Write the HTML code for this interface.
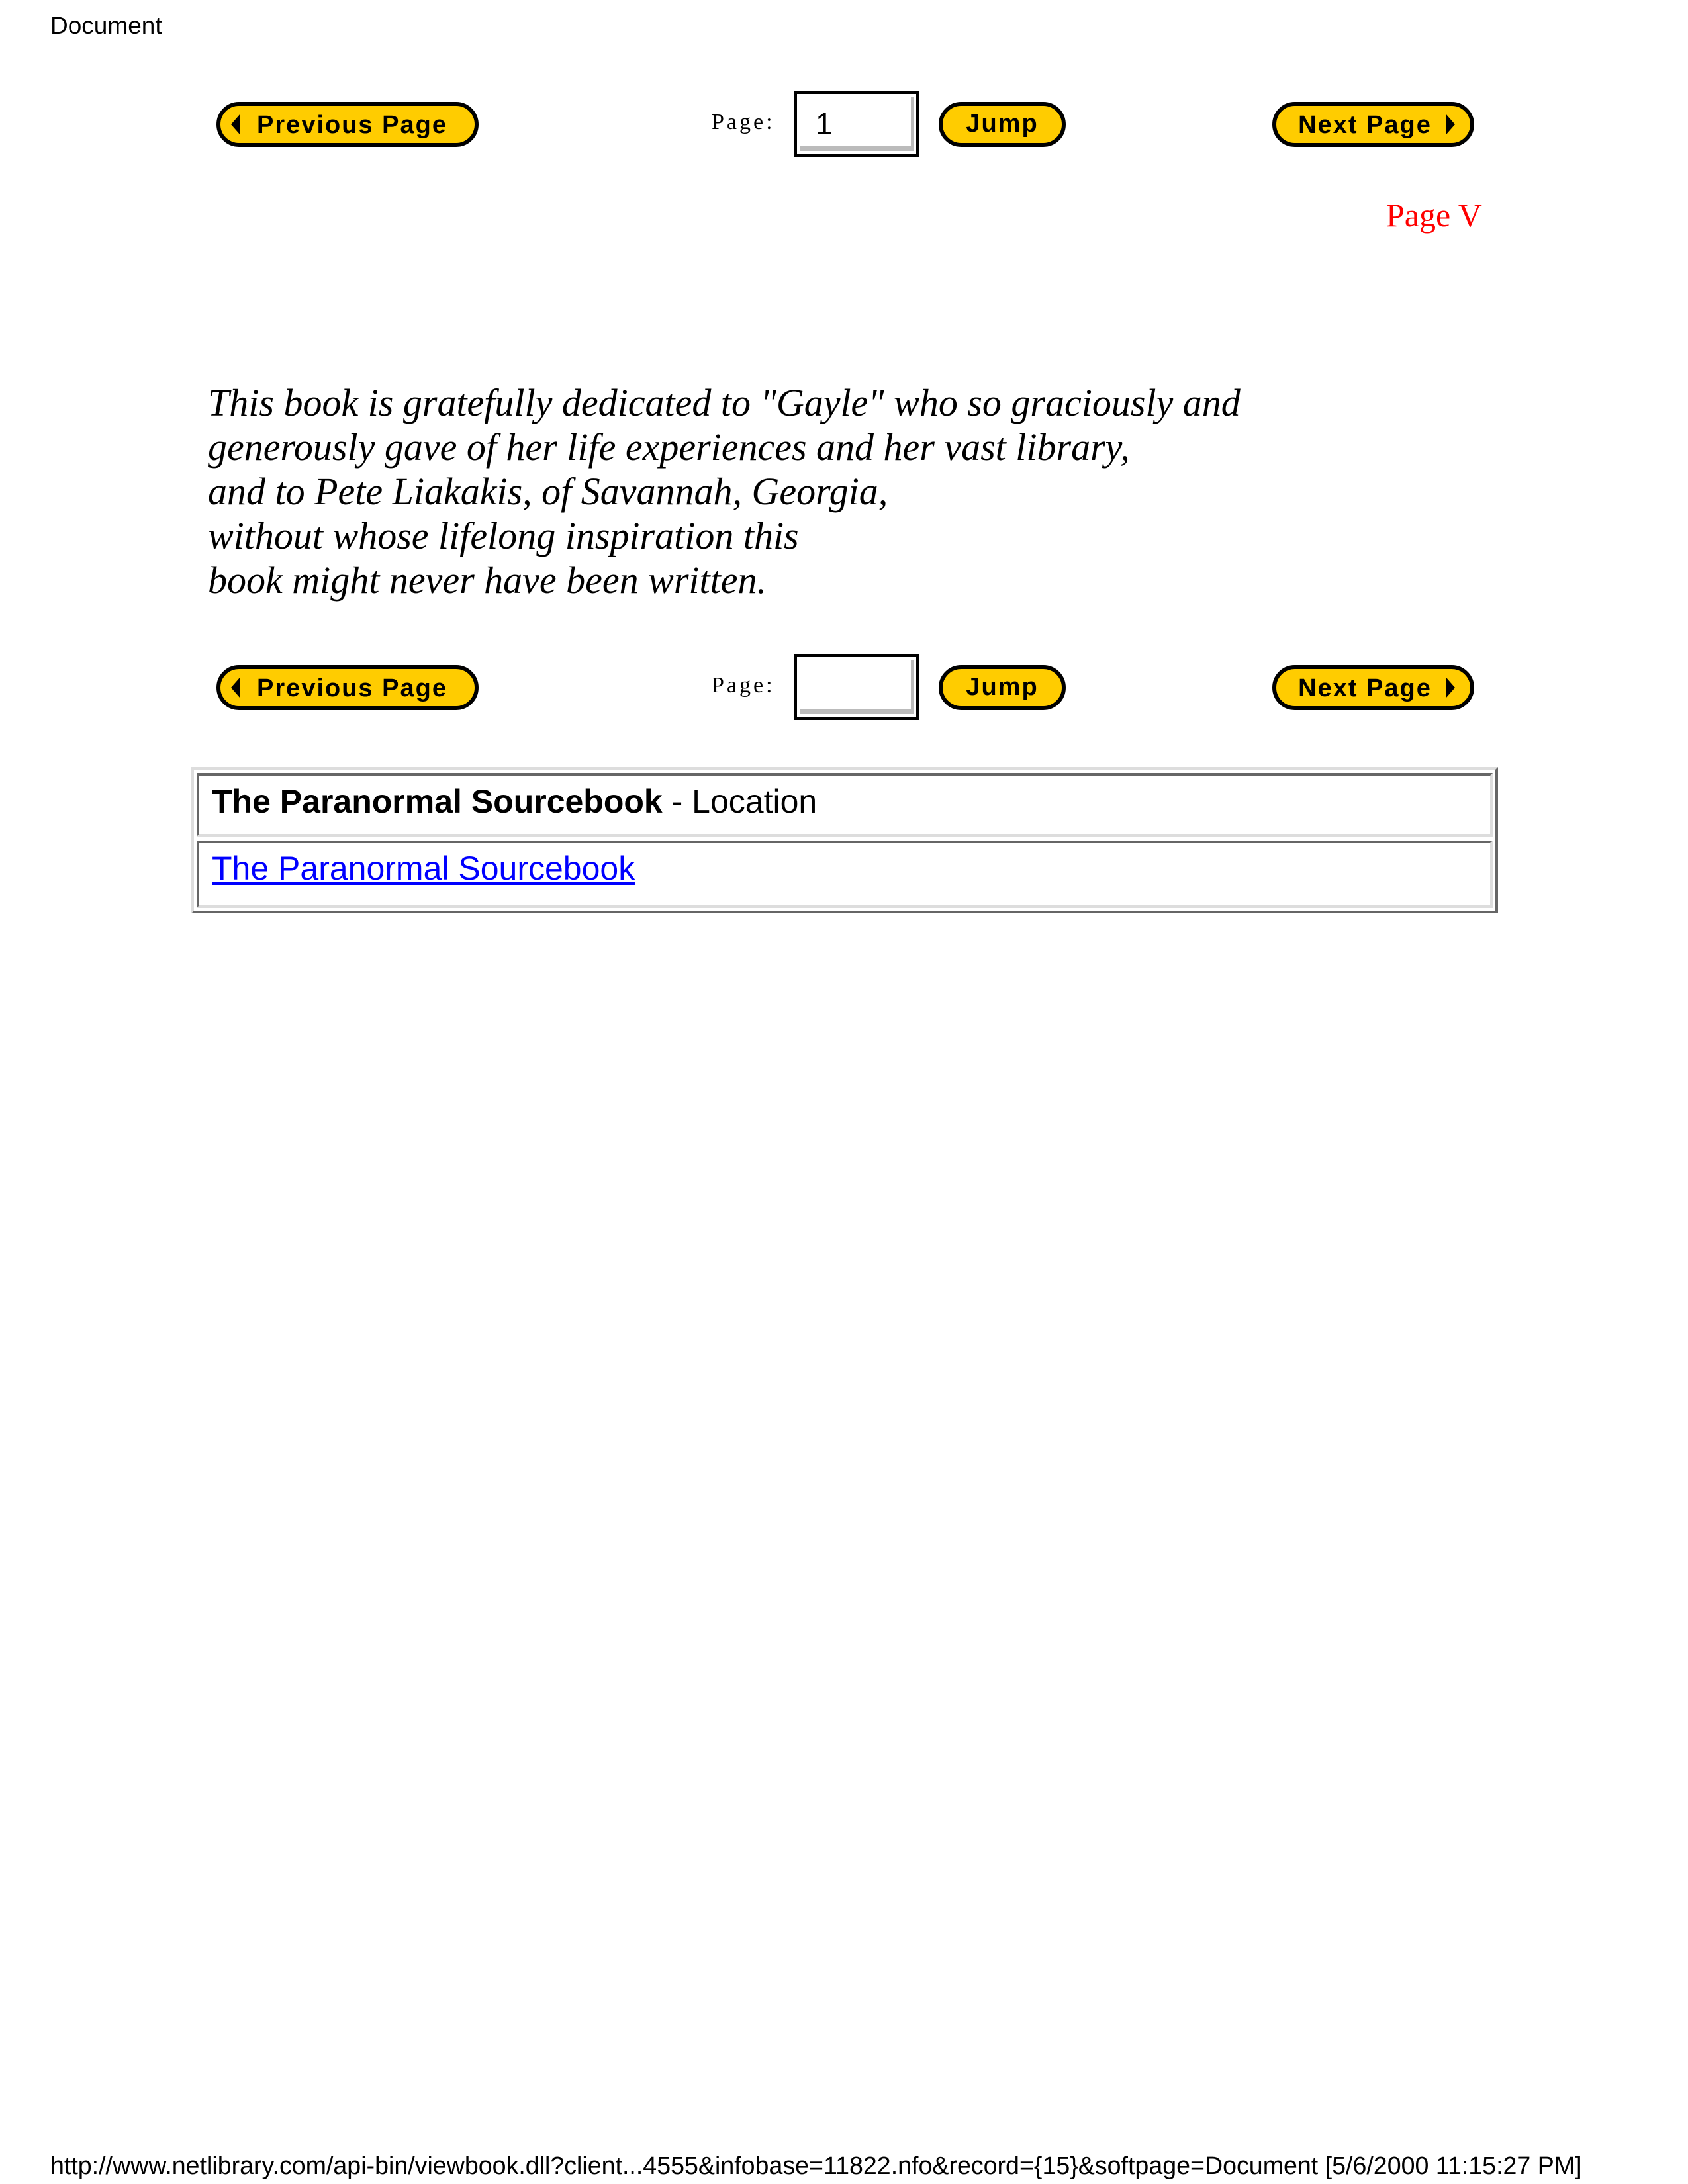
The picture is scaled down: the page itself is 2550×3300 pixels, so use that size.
<!DOCTYPE html>
<html><head><meta charset="utf-8"><style>
html,body{margin:0;padding:0;background:#fff;}
body{width:2550px;height:3300px;position:relative;overflow:hidden;}
.a{position:absolute;white-space:nowrap;}
.sans{font-family:"Liberation Sans",sans-serif;}
.serif{font-family:"Liberation Serif",serif;}
.it{font-style:italic;font-size:58px;left:314px;line-height:1;}
.pg{font-size:34px;letter-spacing:4px;}
.box{position:absolute;width:180px;height:90px;border:5px solid #000;background:#fff;box-sizing:border-box;}
.box i{position:absolute;left:4px;right:4px;top:4px;bottom:4px;border-right:4px solid #bbb;border-bottom:8px solid #bbb;}
</style></head><body>
<div class="a sans" style="left:76px;top:18px;font-size:37px;">Document</div>

<svg class="a" style="left:327px;top:154px" width="396" height="68" viewBox="0 0 396 68"><rect x="3" y="3" width="390" height="62" rx="31" fill="#ffcc00" stroke="#000" stroke-width="6"/><polygon points="22,34 36,18 36,50" fill="#000"/><text x="205" y="47" text-anchor="middle" font-family="Liberation Sans" font-weight="bold" font-size="38" letter-spacing="2" fill="#000">Previous Page</text></svg>
<div class="a serif pg" style="left:1075px;top:166px;">Page:</div>
<div class="box" style="left:1199px;top:137px;width:190px;height:100px;"><i></i><span class="a sans" style="left:28px;top:18px;font-size:46px;">1</span></div>
<svg class="a" style="left:1418px;top:154px" width="192" height="68" viewBox="0 0 192 68"><rect x="3" y="3" width="186" height="62" rx="31" fill="#ffcc00" stroke="#000" stroke-width="6"/><text x="96" y="45" text-anchor="middle" font-family="Liberation Sans" font-weight="bold" font-size="38" letter-spacing="2" fill="#000">Jump</text></svg>
<svg class="a" style="left:1922px;top:154px" width="305" height="68" viewBox="0 0 305 68"><rect x="3" y="3" width="299" height="62" rx="31" fill="#ffcc00" stroke="#000" stroke-width="6"/><text x="140" y="47" text-anchor="middle" font-family="Liberation Sans" font-weight="bold" font-size="38" letter-spacing="2" fill="#000">Next Page</text><polygon points="262,18 276,34 262,50" fill="#000"/></svg>

<div class="a serif" style="left:2094px;top:296px;font-size:50px;color:#f00;">Page V</div>

<div class="a serif it" style="top:580px;">This book is gratefully dedicated to "Gayle" who so graciously and</div>
<div class="a serif it" style="top:647px;">generously gave of her life experiences and her vast library,</div>
<div class="a serif it" style="top:714px;">and to Pete Liakakis, of Savannah, Georgia,</div>
<div class="a serif it" style="top:781px;">without whose lifelong inspiration this</div>
<div class="a serif it" style="top:848px;">book might never have been written.</div>

<svg class="a" style="left:327px;top:1005px" width="396" height="68" viewBox="0 0 396 68"><rect x="3" y="3" width="390" height="62" rx="31" fill="#ffcc00" stroke="#000" stroke-width="6"/><polygon points="22,34 36,18 36,50" fill="#000"/><text x="205" y="47" text-anchor="middle" font-family="Liberation Sans" font-weight="bold" font-size="38" letter-spacing="2" fill="#000">Previous Page</text></svg>
<div class="a serif pg" style="left:1075px;top:1017px;">Page:</div>
<div class="box" style="left:1199px;top:988px;width:190px;height:100px;"><i></i></div>
<svg class="a" style="left:1418px;top:1005px" width="192" height="68" viewBox="0 0 192 68"><rect x="3" y="3" width="186" height="62" rx="31" fill="#ffcc00" stroke="#000" stroke-width="6"/><text x="96" y="45" text-anchor="middle" font-family="Liberation Sans" font-weight="bold" font-size="38" letter-spacing="2" fill="#000">Jump</text></svg>
<svg class="a" style="left:1922px;top:1005px" width="305" height="68" viewBox="0 0 305 68"><rect x="3" y="3" width="299" height="62" rx="31" fill="#ffcc00" stroke="#000" stroke-width="6"/><text x="140" y="47" text-anchor="middle" font-family="Liberation Sans" font-weight="bold" font-size="38" letter-spacing="2" fill="#000">Next Page</text><polygon points="262,18 276,34 262,50" fill="#000"/></svg>

<div class="a" style="left:289px;top:1159px;width:1974px;height:221px;box-sizing:border-box;border:4px solid;border-color:#ddd #666 #666 #ddd;"></div>
<div class="a" style="left:297px;top:1168px;width:1958px;height:96px;box-sizing:border-box;border:4px solid;border-color:#666 #ddd #ddd #666;"></div>
<div class="a" style="left:297px;top:1270px;width:1958px;height:102px;box-sizing:border-box;border:4px solid;border-color:#666 #ddd #ddd #666;"></div>
<div class="a sans" style="left:320px;top:1182px;font-size:50px;"><b>The Paranormal Sourcebook</b> - Location</div>
<div class="a sans" style="left:320px;top:1283px;font-size:50px;color:#00f;text-decoration:underline;">The Paranormal Sourcebook</div>

<div class="a sans" style="left:76px;top:3251px;font-size:37.6px;">http://www.netlibrary.com/api-bin/viewbook.dll?client...4555&amp;infobase=11822.nfo&amp;record={15}&amp;softpage=Document [5/6/2000 11:15:27 PM]</div>
</body></html>
